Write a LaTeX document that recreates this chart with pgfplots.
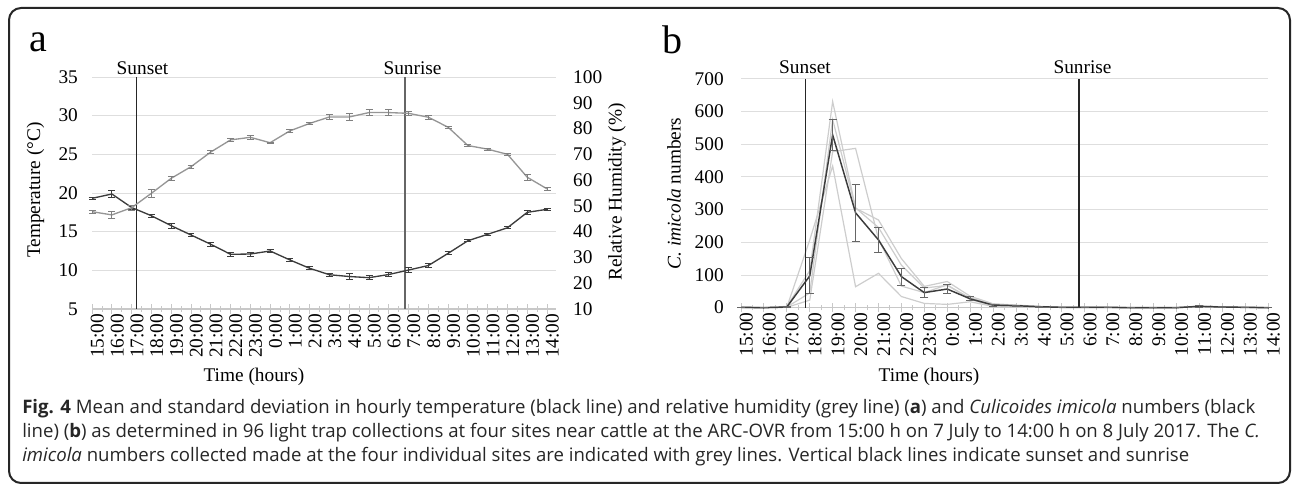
\documentclass[border=0pt]{standalone}
\usepackage{pgfplots}
\pgfplotsset{compat=1.18}
\usepackage{pgfplotstable}
\usepackage{fontspec}
\setmainfont{Liberation Serif}
\newfontfamily\capfont{Open Sans}

\pgfplotstableread{
x T Te H He
0 19.31 0.15 47.75 0.5
1 19.87 0.45 46.5 1.3
2 18.12 0.3 49.3 1.0
3 17.06 0.2 54.9 1.5
4 15.77 0.3 60.7 0.9
5 14.57 0.2 65.2 0.5
6 13.37 0.25 70.9 0.7
7 12.07 0.3 75.6 0.7
8 12.11 0.25 76.6 0.9
9 12.50 0.15 74.5 0.3
10 11.34 0.15 79.1 0.5
11 10.26 0.2 82.0 0.5
12 9.43 0.2 84.5 0.9
13 9.20 0.35 84.5 1.2
14 9.05 0.25 86.2 1.1
15 9.46 0.3 86.2 1.1
16 10.04 0.3 85.9 0.8
17 10.62 0.3 84.4 0.8
18 12.20 0.2 80.5 0.4
19 13.83 0.15 73.4 0.4
20 14.66 0.15 72.0 0.3
21 15.51 0.15 70.0 0.4
22 17.50 0.3 61.1 1.3
23 17.89 0.15 56.6 0.6
}\dataA

\pgfplotstableread{
x m me s1 s2 s3 s4
0 1 1 2 1 0 1
1 0 0.5 0 0 0 0
2 2 1 4 2 1 1
3 97 55 113 45 23 207
4 528 47 630 575 477 433
5 290 87 305 304 487 64
6 207 37 245 268 210 105
7 95 26 130 150 66 34
8 46 15 60 65 46 13
9 57 15 68 80 70 10
10 27 6 30 35 25 18
11 8 3 10 12 6 4
12 6 2 6 8 5 5
13 3 1 3 4 2 3
14 1 1 1 1 1 1
15 1 0.5 1 1 1 1
16 1 0.5 1 1 1 1
17 0 0.5 0 0 0 0
18 0 0.5 0 0 0 0
19 0 0.5 0 0 0 0
20 4 2 5 4 3 4
21 2 1 2 3 2 1
22 1 0.5 1 1 1 1
23 0 0.5 0 0 0 0
}\dataB

\definecolor{gridc}{RGB}{222,222,222}
\definecolor{axc}{RGB}{200,200,200}
\definecolor{tempc}{RGB}{60,60,60}
\definecolor{humc}{RGB}{150,150,150}
\definecolor{sitec}{RGB}{205,205,205}

\pgfplotsset{
  excel/.style={
    scale only axis, anchor=south west, clip=false,
    axis x line*=bottom, axis y line*=left,
    y axis line style={draw=none},
    x axis line style={draw=axc, line width=0.8pt, -},
    ymajorgrids, grid style={gridc, line width=0.6pt},
    ticklabel style={font=\fontsize{14.5}{16}\selectfont},
    /pgf/number format/assume math mode=true,
    ytick style={draw=none},
    xtick={0,...,23},
    xticklabels={15:00,16:00,17:00,18:00,19:00,20:00,21:00,22:00,23:00,0:00,1:00,2:00,3:00,4:00,5:00,6:00,7:00,8:00,9:00,10:00,11:00,12:00,13:00,14:00},
    xticklabel style={rotate=90, anchor=east, inner sep=0pt, yshift=-4pt},
    minor x tick num=1,
    xtick style={draw=axc, line width=0.7pt},
    major tick length=7pt, minor tick length=4pt,
    xtick align=center,
    yticklabel style={anchor=east, inner sep=0pt},
  }
}

\begin{document}
\begin{tikzpicture}[x=0.75pt,y=0.75pt]
\path[use as bounding box] (0,0) rectangle (1292,485);
\draw[line width=1.5pt, black!85, rounded corners=9pt] (9,477) rectangle (1290,2);

% ---------- panel a ----------
\begin{axis}[excel, at={(69.075pt,132pt)}, width=347.9pt, height=174pt,
  xmin=0, xmax=23.45, ymin=5, ymax=35, ytick={5,10,...,35},
  yticklabel style={xshift=-10.5pt}]
\addplot[draw=black!85, line width=0.9pt] coordinates {(2.25,5) (2.25,35)};
\addplot[draw=black!60, line width=1.4pt] coordinates {(15.8,5) (15.8,35)};
\addplot[tempc, line width=1pt, mark=none,
  error bars/.cd, y dir=both, y explicit,
  error bar style={line width=0.6pt, tempc},
  error mark options={rotate=90, mark size=2.6pt, line width=0.6pt, tempc}]
  table[x=x, y=T, y error=Te] {\dataA};
\end{axis}
\begin{axis}[excel, at={(69.075pt,132pt)}, width=347.9pt, height=174pt,
  xmin=0, xmax=23.45, ymin=10, ymax=100, ytick={10,20,...,100},
  axis x line=none, axis y line*=right, ymajorgrids=false,
  yticklabel style={anchor=west, xshift=12.75pt}]
\addplot[humc, line width=1pt, mark=none,
  error bars/.cd, y dir=both, y explicit,
  error bar style={line width=0.6pt, humc!85!black},
  error mark options={rotate=90, mark size=2.6pt, line width=0.6pt, humc!85!black}]
  table[x=x, y=H, y error=He] {\dataA};
\end{axis}

% ---------- panel b ----------
\begin{axis}[excel, at={(555.75pt,133pt)}, width=395.25pt, height=171.75pt,
  xmin=0, xmax=23, ymin=0, ymax=700, ytick={0,100,...,700},
  yticklabel style={xshift=-12.75pt}]
\addplot[sitec, line width=0.9pt] table[x=x, y=s1] {\dataB};
\addplot[sitec, line width=0.9pt] table[x=x, y=s2] {\dataB};
\addplot[sitec, line width=0.9pt] table[x=x, y=s3] {\dataB};
\addplot[sitec, line width=0.9pt] table[x=x, y=s4] {\dataB};
\addplot[draw=black!85, line width=0.9pt] coordinates {(2.8,0) (2.8,700)};
\addplot[draw=black!85, line width=0.9pt] coordinates {(14.75,0) (14.75,700)};
\addplot[tempc, line width=1.1pt, mark=none,
  error bars/.cd, y dir=both, y explicit,
  error bar style={line width=0.7pt, black!60},
  error mark options={rotate=90, mark size=3pt, line width=0.7pt, black!60}]
  table[x=x, y=m, y error=me] {\dataB};
\end{axis}

% ---------- texts ----------
\node[font=\fontsize{30}{32}\selectfont] at (38,443) {a};
\node[font=\fontsize{30}{32}\selectfont] at (672,445) {b};
\node[font=\fontsize{14.5}{16}\selectfont] at (142.5,417) {Sunset};
\node[font=\fontsize{14.5}{16}\selectfont] at (412.5,417) {Sunrise};
\node[font=\fontsize{14.5}{16}\selectfont] at (805,418) {Sunset};
\node[font=\fontsize{14.5}{16}\selectfont] at (1082.5,418) {Sunrise};
\node[font=\fontsize{14.5}{16}\selectfont, rotate=90] at (35.5,295) {Temperature (°C)};
\node[font=\fontsize{14.5}{16}\selectfont, rotate=90] at (617,293) {Relative Humidity (\%)};
\node[font=\fontsize{14.5}{16}\selectfont, rotate=90] at (674,291.5) {\textit{C. imicola} numbers};
\node[font=\fontsize{14.5}{16}\selectfont] at (254,108) {Time (hours)};
\node[font=\fontsize{14.5}{16}\selectfont] at (929,108) {Time (hours)};

\begin{scope}[every node/.style={anchor=base west, inner sep=0pt, font=\capfont\fontsize{13.95}{16}\selectfont, text=black!85}]
\node at (22,71) {\textbf{Fig. 4} Mean and standard deviation in hourly temperature (black line) and relative humidity (grey line) (\textbf{a}) and \textit{Culicoides imicola} numbers (black};
\node at (22,47) {line) (\textbf{b}) as determined in 96 light trap collections at four sites near cattle at the ARC-OVR from 15:00 h on 7 July to 14:00 h on 8 July 2017. The \textit{C.}};
\node at (22,23) {\textit{imicola} numbers collected made at the four individual sites are indicated with grey lines. Vertical black lines indicate sunset and sunrise};
\end{scope}
\end{tikzpicture}
\end{document}
